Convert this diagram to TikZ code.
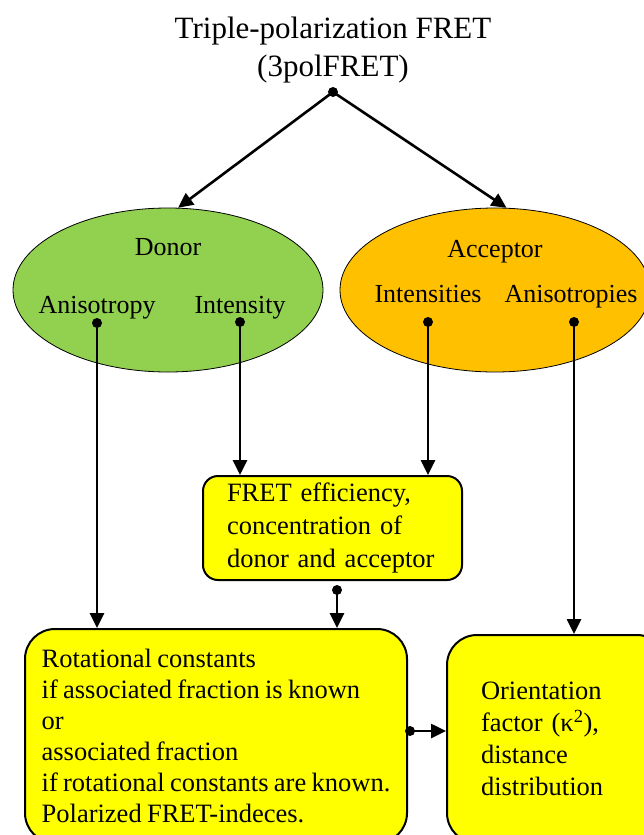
\documentclass[tikz,border=0pt]{standalone}
\usepackage{fontspec}
\setmainfont{Liberation Serif}
\newfontfamily\boxfont[WordSpace=0.8]{Liberation Serif}
\usetikzlibrary{shapes.geometric,arrows.meta}
\definecolor{dgreen}{RGB}{146,208,80}
\definecolor{aorange}{RGB}{255,192,0}
\definecolor{byellow}{RGB}{255,255,0}
\begin{document}
\begin{tikzpicture}[x=1pt,y=-1pt,
  arr/.style={line width=2.6pt,-{Triangle[length=15pt,width=14pt]}},
  dotn/.style={circle,fill=black,inner sep=0pt,minimum size=10pt},
  oval/.style={ellipse,draw=black,line width=0.8pt,minimum width=310pt,minimum height=164pt,inner sep=0pt},
  lbl/.style={font=\fontsize{26}{31}\selectfont,inner sep=0pt,anchor=base},
  ybox/.style={draw=black,line width=2pt,fill=byellow,align=left,inner ysep=0pt}
]
\useasboundingbox (0,0) rectangle (644,835);
\clip (0,0) rectangle (644,835);
\fill[white] (0,0) rectangle (644,835);

% title
\node[font=\fontsize{31}{38}\selectfont,align=center,inner sep=0pt,anchor=base] (title) at (333,38) {Triple-polarization FRET};
\node[font=\fontsize{31}{38}\selectfont,inner sep=0pt,anchor=base] (title2) at (333,76) {(3polFRET)};

% ellipses
\node[oval,fill=dgreen] (donor) at (168,290) {};
\node[oval,fill=aorange] (acc) at (495,290) {};
\node[lbl] (donorlbl) at (168,255) {Donor};
\node[lbl] (aniso) at (97,313) {Anisotropy};
\node[lbl] (inten) at (240,313) {Intensity};
\node[lbl] (acclbl) at (495,257) {Acceptor};
\node[lbl] (intens) at (428,302) {Intensities};
\node[lbl] (anisos) at (571,302) {Anisotropies};

% boxes
\node[ybox,rounded corners=15pt,minimum height=104pt,text width=211pt,inner xsep=24pt,
  font=\boxfont\fontsize{26.5}{33}\selectfont] (fret) at (332.5,528)
  {FRET efficiency,\\concentration of\\donor and acceptor};
\node[ybox,rounded corners=30pt,minimum height=214pt,minimum width=382pt,inner xsep=0pt,
  font=\boxfont\fontsize{26.5}{31}\selectfont] (rot) at (216,736)
  {Rotational constants\\if associated fraction is known\\or\\associated fraction\\if rotational constants are known.\\Polarized FRET-indeces.};
\node[ybox,rounded corners=30pt,minimum height=208pt,text width=152pt,inner xsep=34pt,
  font=\boxfont\fontsize{26.5}{32}\selectfont] (ori) at (557,739)
  {Orientation\\factor (κ\textsuperscript{2}),\\distance\\distribution};

% dots
\node[dotn] (top) at (333,92) {};
\node[dotn] (dA) at (97,323) {};
\node[dotn] (dI) at (240,322) {};
\node[dotn] (dIs) at (428,322) {};
\node[dotn] (dAs) at (574,322) {};
\node[dotn] (dF) at (337,590) {};
\node[dotn] (dR) at (410,731) {};

% connectors
\draw[arr] (top.center) -- (donor.83);
\draw[arr] (top.center) -- (acc.82);
\draw[arr] (dA.center) -- (dA |- rot.north);
\draw[arr] (dI.center) -- (dI |- fret.north);
\draw[arr] (dIs.center) -- (dIs |- fret.north);
\draw[arr] (dAs.center) -- (dAs |- ori.north);
\draw[arr] (dF.center) -- (dF |- rot.north);
\draw[arr] (dR.center) -- (dR -| ori.west);
\end{tikzpicture}
\end{document}
